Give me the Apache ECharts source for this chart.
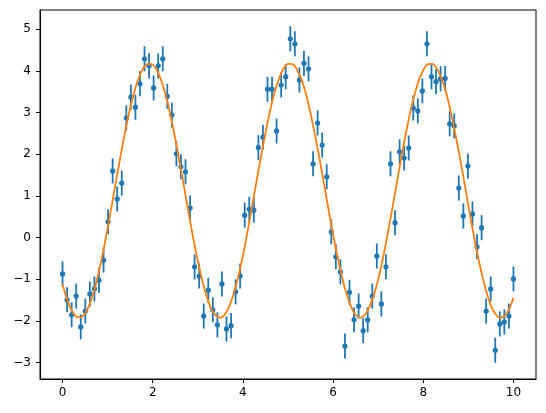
<!DOCTYPE html>
<html>
<head>
<meta charset="utf-8">
<script src="https://cdn.jsdelivr.net/npm/echarts@6/dist/echarts.min.js"></script>
<style>html,body{margin:0;padding:0;background:#fff}#c{width:546px;height:413px}</style>
</head>
<body>
<div id="c"></div>
<script>
// Measured data points (x, y) with constant error bar
const xData = [0,0.101,0.202,0.303,0.404,0.505,0.606,0.707,0.808,0.909,
1.010,1.111,1.212,1.313,1.414,1.515,1.616,1.717,1.818,1.919,
2.020,2.121,2.222,2.323,2.424,2.525,2.626,2.727,2.828,2.929,
3.030,3.131,3.232,3.333,3.434,3.535,3.636,3.737,3.838,3.939,
4.040,4.141,4.242,4.343,4.444,4.545,4.646,4.747,4.848,4.949,
5.051,5.152,5.253,5.354,5.455,5.556,5.657,5.758,5.859,5.960,
6.061,6.162,6.263,6.364,6.465,6.566,6.667,6.768,6.869,6.970,
7.071,7.172,7.273,7.374,7.475,7.576,7.677,7.778,7.879,7.980,
8.081,8.182,8.283,8.384,8.485,8.586,8.687,8.788,8.889,8.990,
9.091,9.192,9.293,9.394,9.495,9.596,9.697,9.798,9.899,10];
const yData = [-0.87,-1.49,-1.85,-1.40,-2.14,-1.76,-1.35,-1.23,-1.02,-0.54,
0.38,1.60,0.93,1.31,2.87,3.37,3.13,3.69,4.29,4.12,
3.59,4.12,4.29,3.39,2.94,2.01,1.70,1.58,0.71,-0.70,
-0.92,-1.88,-1.26,-1.73,-2.09,-1.11,-2.19,-2.11,-1.30,-0.92,
0.54,0.68,0.66,2.16,2.41,3.56,3.56,2.56,3.66,3.86,
4.77,4.65,3.78,4.18,4.05,1.77,2.75,2.22,1.46,0.14,
-0.46,-0.82,-2.60,-1.31,-1.97,-1.64,-2.23,-1.97,-1.40,-0.44,
-1.59,-0.70,1.77,0.36,2.06,1.91,2.15,3.11,3.04,3.52,
4.65,3.86,3.74,3.81,3.82,2.73,2.68,1.19,0.52,1.72,
0.57,-0.22,0.24,-1.76,-1.23,-2.70,-2.07,-2.02,-1.88,-0.99];
const yErr = 0.3;

// Fitted curve
const fitX = [0,0.1,0.2,0.3,0.4,0.5,0.6,0.7,0.8,0.9,1.0,1.1,1.2,1.3,1.4,1.5,1.6,1.7,1.8,1.9,
2.0,2.1,2.2,2.3,2.4,2.5,2.6,2.7,2.8,2.9,3.0,3.1,3.2,3.3,3.4,3.5,3.6,3.7,3.8,3.9,
4.0,4.1,4.2,4.3,4.4,4.5,4.6,4.7,4.8,4.9,5.0,5.1,5.2,5.3,5.4,5.5,5.6,5.7,5.8,5.9,
6.0,6.1,6.2,6.3,6.4,6.5,6.6,6.7,6.8,6.9,7.0,7.1,7.2,7.3,7.4,7.5,7.6,7.7,7.8,7.9,
8.0,8.1,8.2,8.3,8.4,8.5,8.6,8.7,8.8,8.9,9.0,9.1,9.2,9.3,9.4,9.5,9.6,9.7,9.8,9.9,10.0];
const fitY = [-1.11,-1.48,-1.74,-1.89,-1.91,-1.82,-1.60,-1.27,-0.84,-0.34,
0.23,0.83,1.44,2.04,2.61,3.11,3.53,3.86,4.08,4.17,
4.15,4.00,3.73,3.37,2.90,2.37,1.79,1.18,0.57,-0.02,
-0.56,-1.03,-1.42,-1.71,-1.87,-1.92,-1.84,-1.64,-1.33,-0.92,
-0.43,0.13,0.72,1.34,1.94,2.51,3.03,3.47,3.81,4.05,
4.17,4.16,4.03,3.79,3.44,2.98,2.46,1.89,1.28,0.67,
0.07,-0.47,-0.95,-1.36,-1.66,-1.85,-1.92,-1.86,-1.68,-1.39,
-1.00,-0.52,0.03,0.62,1.23,1.84,2.42,2.95,3.40,3.77,
4.02,4.16,4.17,4.06,3.83,3.51,3.06,2.55,1.99,1.39,
0.77,0.17,-0.39,-0.88,-1.30,-1.63,-1.83,-1.92,-1.88,-1.72,-1.45];

const xTicks = [0,2,4,6,8,10];
const yTicks = [-3,-2,-1,0,1,2,3,4,5];

const pts = xData.map((x,i)=>[x,yData[i]]);
const fit = fitX.map((x,i)=>[x,fitY[i]]);
const fmt = v => v < 0 ? '\u2212' + Math.abs(v) : String(v);
const font = 'DejaVu Sans';

const chart = echarts.init(document.getElementById('c'), null, {renderer:'canvas'});
chart.setOption({
  animation:false,
  backgroundColor:'#fff',
  grid:{left:40,right:10,top:10,bottom:34,show:true,borderColor:'#000',borderWidth:1,backgroundColor:'transparent'},
  xAxis:{type:'value',min:-0.5,max:10.5,
    axisLine:{show:true,onZero:false,lineStyle:{color:'#000',width:1}},
    axisTick:{show:true,length:4,customValues:xTicks,lineStyle:{color:'#000',width:1}},
    axisLabel:{customValues:xTicks,formatter:fmt,color:'#000',fontFamily:font,fontSize:12,margin:8},
    splitLine:{show:false}},
  yAxis:{type:'value',min:-3.39,max:5.46,
    axisLine:{show:true,onZero:false,lineStyle:{color:'#000',width:1}},
    axisTick:{show:true,length:4,customValues:yTicks,lineStyle:{color:'#000',width:1}},
    axisLabel:{customValues:yTicks,formatter:fmt,color:'#000',fontFamily:font,fontSize:12,margin:9},
    splitLine:{show:false}},
  series:[
    {type:'custom',data:pts,z:2,clip:false,
     renderItem:function(params,api){
       const x=api.value(0), y=api.value(1);
       const top=api.coord([x,y+yErr]), bot=api.coord([x,y-yErr]), c=api.coord([x,y]);
       return {type:'group',children:[
         {type:'line',shape:{x1:top[0],y1:top[1],x2:bot[0],y2:bot[1]},style:{stroke:'#1f77b4',lineWidth:1.8}},
         {type:'circle',shape:{cx:c[0],cy:c[1],r:2.6},style:{fill:'#1f77b4'}}
       ]};
     }},
    {type:'line',data:fit,smooth:0.3,showSymbol:false,z:3,
     lineStyle:{color:'#ff7f0e',width:1.8}}
  ]
});
</script>
</body>
</html>
